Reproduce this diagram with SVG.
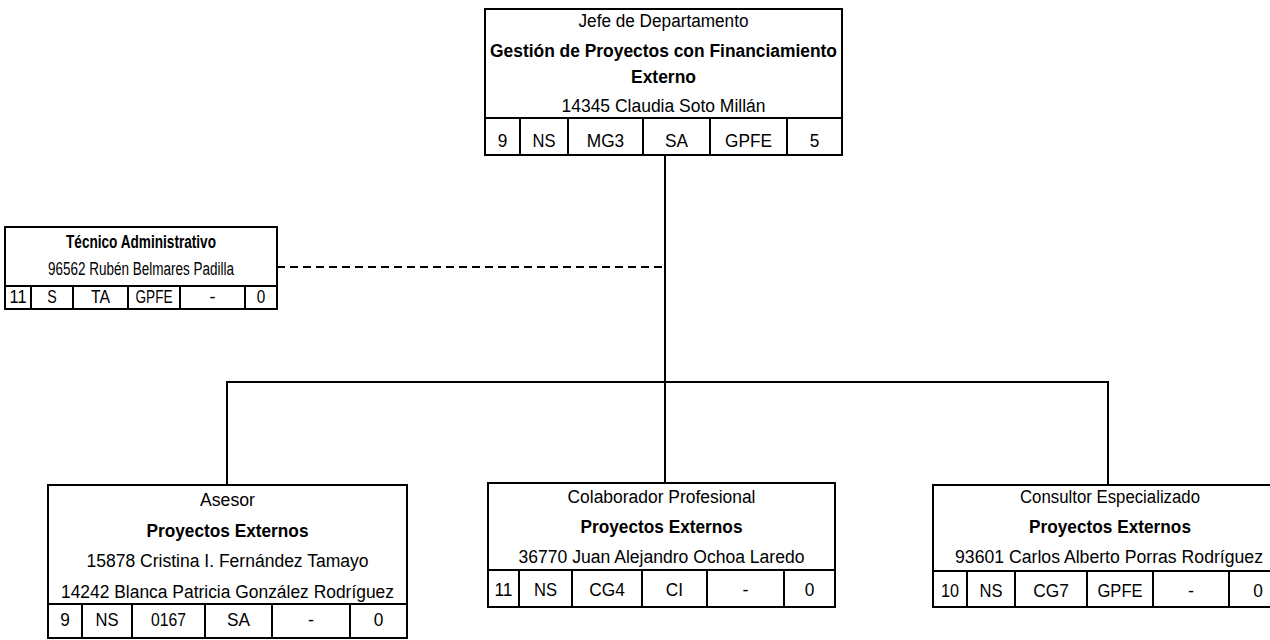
<svg xmlns="http://www.w3.org/2000/svg" width="1270" height="640" viewBox="0 0 1270 640">
<style>
.box{fill:#fff;stroke:#000;stroke-width:2}
.ln{stroke:#000;stroke-width:2;fill:none}
.dash{stroke:#000;stroke-width:2;fill:none;stroke-dasharray:8 5}
text{font-family:"Liberation Sans",Arial,sans-serif;font-size:18px;fill:#000;text-anchor:middle}
.b{font-weight:bold}
</style>
<rect width="1270" height="640" fill="#fff"/>
<g id="connectors">
<line class="ln" x1="665" y1="155" x2="665" y2="483"/>
<line class="ln" x1="227" y1="382" x2="1108" y2="382"/>
<line class="ln" x1="227" y1="381" x2="227" y2="485"/>
<line class="ln" x1="1108" y1="381" x2="1108" y2="485"/>
<line class="dash" x1="277" y1="267" x2="665" y2="267"/>
</g>
<g id="jefe">
<rect class="box" x="485" y="9" width="357" height="146"/>
<line class="ln" x1="485" y1="118" x2="842" y2="118"/>
<path class="ln" d="M520 118V155M568 118V155M643 118V155M710 118V155M787 118V155"/>
<text x="663.5" y="27" textLength="170" lengthAdjust="spacingAndGlyphs">Jefe de Departamento</text>
<text class="b" x="663.5" y="57" textLength="347" lengthAdjust="spacingAndGlyphs">Gestión de Proyectos con Financiamiento</text>
<text class="b" x="663.5" y="83" textLength="65" lengthAdjust="spacingAndGlyphs">Externo</text>
<text x="663.5" y="112" textLength="204" lengthAdjust="spacingAndGlyphs">14345 Claudia Soto Millán</text>
<text x="502.5" y="147" textLength="9.6" lengthAdjust="spacingAndGlyphs">9</text><text x="544" y="147" textLength="23" lengthAdjust="spacingAndGlyphs">NS</text><text x="605.5" y="147" textLength="37.5" lengthAdjust="spacingAndGlyphs">MG3</text><text x="676.5" y="147" textLength="23" lengthAdjust="spacingAndGlyphs">SA</text><text x="748.5" y="147" textLength="47" lengthAdjust="spacingAndGlyphs">GPFE</text><text x="814.5" y="147" textLength="9.6" lengthAdjust="spacingAndGlyphs">5</text>
</g>
<g id="tecnico">
<rect class="box" x="5" y="227" width="272" height="82"/>
<line class="ln" x1="5" y1="286" x2="277" y2="286"/>
<path class="ln" d="M31 286V309M73 286V309M128 286V309M180 286V309M245 286V309"/>
<text class="b" x="141" y="248" textLength="150" lengthAdjust="spacingAndGlyphs">Técnico Administrativo</text>
<text x="141" y="275" textLength="186" lengthAdjust="spacingAndGlyphs">96562 Rubén Belmares Padilla</text>
<text x="18" y="303" textLength="17" lengthAdjust="spacingAndGlyphs">11</text><text x="52" y="303" textLength="9.5" lengthAdjust="spacingAndGlyphs">S</text><text x="100.5" y="303" textLength="19" lengthAdjust="spacingAndGlyphs">TA</text><text x="154" y="303" textLength="37" lengthAdjust="spacingAndGlyphs">GPFE</text><text x="212.5" y="303">-</text><text x="261" y="303" textLength="8.5" lengthAdjust="spacingAndGlyphs">0</text>
</g>
<g id="asesor">
<rect class="box" x="48" y="485" width="359" height="153"/>
<line class="ln" x1="48" y1="604" x2="407" y2="604"/>
<path class="ln" d="M82 604V638M132 604V638M205 604V638M272 604V638M350 604V638"/>
<text x="227.5" y="506" textLength="55" lengthAdjust="spacingAndGlyphs">Asesor</text>
<text class="b" x="227.5" y="537" textLength="162" lengthAdjust="spacingAndGlyphs">Proyectos Externos</text>
<text x="227.5" y="567" textLength="282" lengthAdjust="spacingAndGlyphs">15878 Cristina I. Fernández Tamayo</text>
<text x="227.5" y="598" textLength="333" lengthAdjust="spacingAndGlyphs">14242 Blanca Patricia González Rodríguez</text>
<text x="65" y="626" textLength="9.6" lengthAdjust="spacingAndGlyphs">9</text><text x="107" y="626" textLength="23" lengthAdjust="spacingAndGlyphs">NS</text><text x="168.5" y="626" textLength="35" lengthAdjust="spacingAndGlyphs">0167</text><text x="238.5" y="626" textLength="23" lengthAdjust="spacingAndGlyphs">SA</text><text x="311" y="626">-</text><text x="378.5" y="626" textLength="9.6" lengthAdjust="spacingAndGlyphs">0</text>
</g>
<g id="colaborador">
<rect class="box" x="488" y="483" width="347" height="124"/>
<line class="ln" x1="488" y1="570" x2="835" y2="570"/>
<path class="ln" d="M519 570V607M572 570V607M642 570V607M707 570V607M784 570V607"/>
<text x="661.5" y="503" textLength="188" lengthAdjust="spacingAndGlyphs">Colaborador Profesional</text>
<text class="b" x="661.5" y="533" textLength="162" lengthAdjust="spacingAndGlyphs">Proyectos Externos</text>
<text x="661.5" y="563" textLength="286" lengthAdjust="spacingAndGlyphs">36770 Juan Alejandro Ochoa Laredo</text>
<text x="503.5" y="596" textLength="18" lengthAdjust="spacingAndGlyphs">11</text><text x="545.5" y="596" textLength="23" lengthAdjust="spacingAndGlyphs">NS</text><text x="607" y="596" textLength="35.6" lengthAdjust="spacingAndGlyphs">CG4</text><text x="674.5" y="596" textLength="17.3" lengthAdjust="spacingAndGlyphs">CI</text><text x="745.5" y="596">-</text><text x="809.5" y="596" textLength="9.6" lengthAdjust="spacingAndGlyphs">0</text>
</g>
<g id="consultor">
<rect class="box" x="933" y="485" width="354" height="122"/>
<line class="ln" x1="933" y1="571" x2="1287" y2="571"/>
<path class="ln" d="M967 571V607M1015 571V607M1087 571V607M1153 571V607M1229 571V607"/>
<text x="1110" y="503" textLength="180" lengthAdjust="spacingAndGlyphs">Consultor Especializado</text>
<text class="b" x="1110" y="533" textLength="162" lengthAdjust="spacingAndGlyphs">Proyectos Externos</text>
<text x="1109" y="563" textLength="308" lengthAdjust="spacingAndGlyphs">93601 Carlos Alberto Porras Rodríguez</text>
<text x="950" y="597" textLength="18" lengthAdjust="spacingAndGlyphs">10</text><text x="991" y="597" textLength="23" lengthAdjust="spacingAndGlyphs">NS</text><text x="1051" y="597" textLength="35.6" lengthAdjust="spacingAndGlyphs">CG7</text><text x="1120" y="597" textLength="45" lengthAdjust="spacingAndGlyphs">GPFE</text><text x="1191" y="597">-</text><text x="1258" y="597" textLength="9.6" lengthAdjust="spacingAndGlyphs">0</text>
</g>
</svg>
